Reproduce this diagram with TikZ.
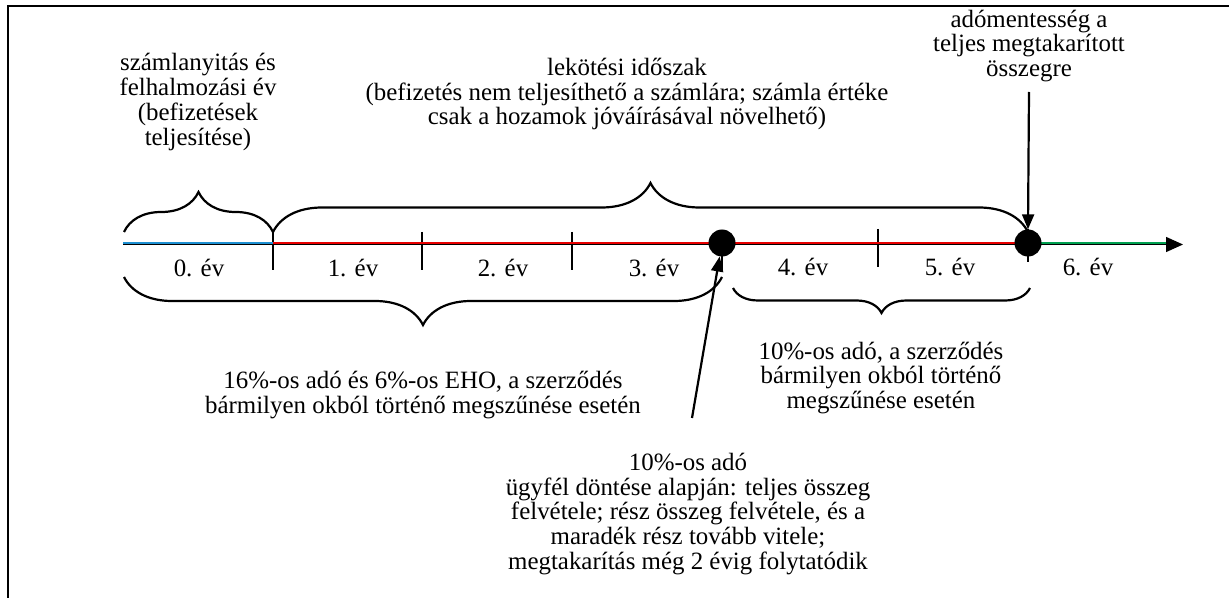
\documentclass[tikz,border=0pt]{standalone}
\usepackage{fontspec}
\setmainfont{Liberation Serif}
\usetikzlibrary{arrows.meta,decorations.pathreplacing}
\definecolor{lineblue}{RGB}{30,144,210}
\definecolor{linered}{RGB}{232,0,0}
\definecolor{linegreen}{RGB}{0,160,80}

\begin{document}
\begin{tikzpicture}[x=1bp,y=-1bp,
  lbl/.style={font=\fontsize{25}{24.8}\selectfont, align=center, inner sep=0pt},
  yr/.style={font=\fontsize{25}{24.8}\selectfont, inner sep=0pt, anchor=base},
  tickmark/.style={line width=2bp},
  brc/.style={decorate, decoration={brace, amplitude=#1}, line width=2.2bp},
  dot/.style={circle, fill=black, minimum size=27bp, inner sep=0pt},
  pointer/.style={line width=2.2bp, -{Triangle[length=15bp,width=12bp]}},
]
\useasboundingbox (0,0) rectangle (1229,598);
% frame
\draw[line width=2.4bp] (8,598) -- (8,6) -- (1229,6);

% timeline: black base line with arrow, coloured segments on top
\coordinate (t0) at (123,243);
\coordinate (t1) at (273,243);
\coordinate (tend) at (1183,244.5);
\draw[line width=1.4bp, -{Triangle[length=17bp,width=15bp]}] (123,244.5) -- (tend);

% year ticks
\foreach \x/\a/\b in {273/232/270, 422/232/270, 572/232/270, 722/230/270, 878/229/267, 1028/229/262}
  \draw[tickmark] (\x,\a) -- (\x,\b);

\draw[lineblue, line width=2.6bp] (t0) -- (t1);
\draw[linered, line width=2.6bp] (t1) -- (1028,243);
\draw[linegreen, line width=2.6bp] (1028,243) -- (1166,243);

% milestone dots
\node[dot] (d1) at (722,243) {};
\node[dot] (d2) at (1028,243) {};

% year labels
\node[yr] (y0) at (199,277) {0. év};
\node[yr] (y1) at (353,277) {1. év};
\node[yr] (y2) at (503,277) {2. év};
\node[yr] (y3) at (654,277) {3. év};
\node[yr] (y4) at (803,276) {4. év};
\node[yr] (y5) at (950,276) {5. év};
\node[yr] (y6) at (1088,276) {6. év};

% braces
\coordinate (b0a) at (124,232);
\coordinate (b0b) at (273,232);
\coordinate (b1b) at (1028,232);
\coordinate (b2a) at (124,277);
\coordinate (b2b) at (722,277);
\coordinate (b3a) at (733,288);
\coordinate (b3b) at (1030,288);
\draw[brc=40bp] (b0a) -- (b0b);
\draw[brc=49bp] (b0b) -- (b1b);
\draw[brc=48bp] (b2b) -- (b2a);
\draw[brc=25bp] (b3b) -- (b3a);

% texts
\node[lbl] (n1) at (198,102) {számlanyitás és\\felhalmozási év\\(befizetések\\teljesítése)};
\node[lbl] (n2) at (627,94) {lekötési időszak\\(befizetés nem teljesíthető a számlára; számla értéke\\csak a hozamok jóváírásával növelhető)};
\node[lbl] (n3) at (1029,46) {adómentesség a\\teljes megtakarított\\összegre};
\node[lbl] (n5) at (423,395) {16\%-os adó és 6\%-os EHO, a szerződés\\bármilyen okból történő megszűnése esetén};
\node[lbl] (n6) at (881,378) {10\%-os adó, a szerződés\\bármilyen okból történő\\megszűnése esetén};
\node[lbl] (n7) at (688,514) {10\%-os adó\\ügyfél döntése alapján: teljes összeg\\felvétele; rész összeg felvétele, és a\\maradék rész tovább vitele;\\megtakarítás még 2 évig folytatódik};

% pointers to the milestones
\coordinate (p3) at (1029,92);
\coordinate (p7) at (692,418);
\draw[pointer] (p3) -- (d2.north);
\draw[pointer] (p7) -- (d1);
\end{tikzpicture}
\end{document}
